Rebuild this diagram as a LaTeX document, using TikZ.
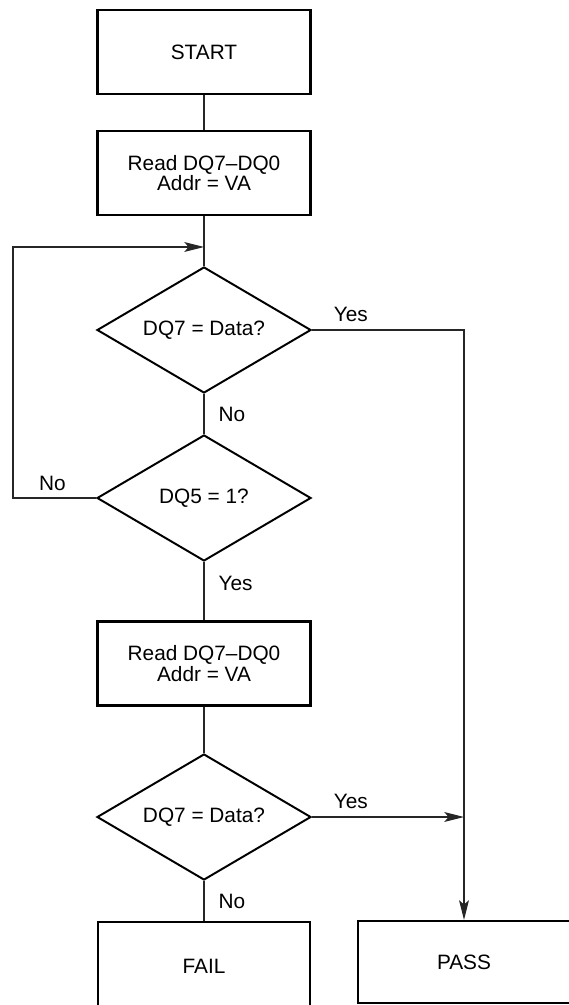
\documentclass[tikz,border=0pt]{standalone}
\usepackage{fontspec}
\setmainfont{Liberation Sans}
\usetikzlibrary{shapes.geometric,arrows.meta}

\tikzset{
  ->/.style={draw=black!85,line width=0.8pt,-{Stealth[length=14pt,width=7pt,inset=3pt]}},
  flow/.style={draw=black!85,line width=0.8pt},
  stepbox/.style={draw,line width=1.5pt,minimum width=5.325cm,minimum height=2.1cm,inner sep=0pt,align=center},
  test/.style={draw,diamond,aspect=1.7,line width=1.4pt,minimum width=5.35cm,minimum height=3.15cm,inner sep=0pt},
  lbl/.style={inner sep=0pt}
}
\tikzstyle{every node}=[font=\fontsize{14.8}{13.5}\selectfont]

\begin{document}
\begin{tikzpicture}
    \useasboundingbox (0,0) rectangle (14.2,-25.125);
    \node[stepbox] (start) at (5.1,-1.3) {START};
    \node[stepbox] (read1) at (5.1,-4.325) {Read DQ7--DQ0\\Addr = VA};
    \draw[flow] (start) -- (read1);
    \node[test] (dq7a) at (5.1,-8.25) {DQ7 = Data?};
    \draw[flow] (read1) -- (dq7a);
    \coordinate (join) at (5.1,-6.175);
    \node[test] (dq5) at (5.1,-12.45) {DQ5 = 1?};
    \draw[flow] (dq7a) -- node[lbl,right=10pt] {No} (dq5);
    \coordinate (back) at (0.325,-12.45);
    \draw[->] (dq5) -- node[lbl,pos=0.524,above=5pt] {No} (back) |- (join);
    \node[stepbox] (read2) at (5.1,-16.5875) {Read DQ7--DQ0\\Addr = VA};
    \draw[flow] (dq5) -- node[lbl,pos=0.37,right=10pt] {Yes} (read2);
    \node[test] (dq7b) at (5.1,-20.425) {DQ7 = Data?};
    \draw[flow] (read2) -- (dq7b);
    \node[stepbox,minimum width=5.3cm,minimum height=2.2cm] (fail) at (5.1,-24.15) {FAIL};
    \draw[flow] (dq7b) -- node[lbl,right=10pt] {No} (fail);
    \node[stepbox,minimum width=5.3cm,minimum height=2.05cm] (pass) at (11.6,-24.05) {PASS};
    \coordinate (corner) at (11.6,-8.25);
    \coordinate (merge) at (11.6,-20.425);
    \draw[->] (dq7a) -- node[lbl,pos=0.255,above=5.5pt] {Yes} (corner) -- (pass);
    \draw[->] (dq7b) -- node[lbl,pos=0.255,above=5.5pt] {Yes} (merge);
\end{tikzpicture}
\end{document}
